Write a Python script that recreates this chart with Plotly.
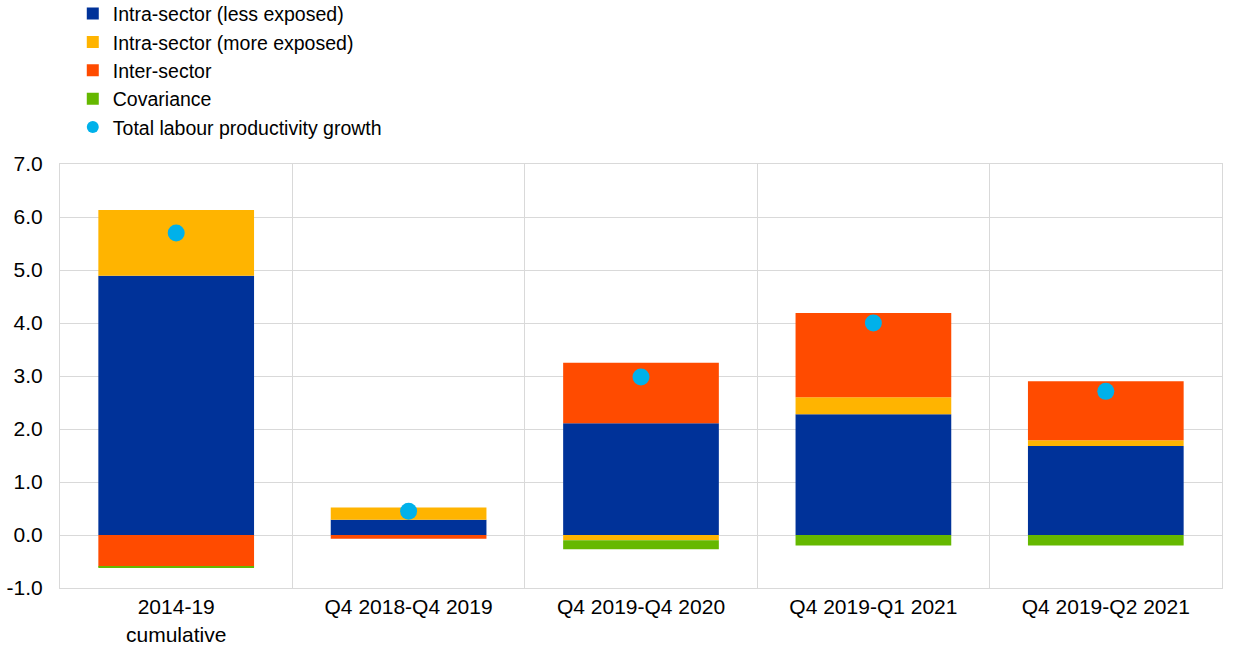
import plotly.graph_objects as go

categories = ["2014-19<br>cumulative", "Q4 2018-Q4 2019", "Q4 2019-Q4 2020", "Q4 2019-Q1 2021", "Q4 2019-Q2 2021"]
intra_less = [4.89, 0.29, 2.11, 2.28, 1.68]
intra_more = [1.24, 0.23, -0.10, 0.32, 0.11]
inter_sector = [-0.60, -0.07, 1.14, 1.59, 1.11]
covariance = [-0.01, 0.0, -0.17, -0.20, -0.20]
total = [5.70, 0.45, 2.98, 4.00, 2.71]
ytick_vals = [-1, 0, 1, 2, 3, 4, 5, 6, 7]
ytick_text = ["-1.0", "0.0", "1.0", "2.0", "3.0", "4.0", "5.0", "6.0", "7.0"]

FONT = "Liberation Sans, Arial, sans-serif"
FS = 21

fig = go.Figure()
bar_specs = [
    ("Intra-sector (less exposed)", intra_less, "#003299"),
    ("Intra-sector (more exposed)", intra_more, "#FFB400"),
    ("Inter-sector", inter_sector, "#FF4B00"),
    ("Covariance", covariance, "#65B800"),
]
for name, vals, col in bar_specs:
    fig.add_trace(go.Bar(x=categories, y=vals, name=name, marker_color=col,
                         marker_line_width=0, width=0.67))
fig.add_trace(go.Scatter(x=categories, y=total, name="Total labour productivity growth",
                         mode="markers", marker=dict(color="#00B1EA", size=17)))

fig.update_layout(
    width=1240, height=658,
    barmode="relative",
    plot_bgcolor="white", paper_bgcolor="white",
    font=dict(family=FONT, size=FS, color="#000000"),
    margin=dict(l=60, r=18, t=164, b=70, autoexpand=False),
    legend=dict(x=0.011, y=1.40, xref="paper", yref="paper",
                xanchor="left", yanchor="top", traceorder="normal",
                font=dict(size=19.5), itemsizing="constant", tracegroupgap=0,
                bgcolor="rgba(0,0,0,0)"),
    showlegend=True,
)
fig.update_xaxes(type="category", tickson="boundaries", showgrid=True,
                 gridcolor="#d9d9d9", gridwidth=1, ticks="", showline=True,
                 linecolor="#d9d9d9", mirror=True, tickfont=dict(size=FS))
fig.update_yaxes(range=[-1, 7], tickmode="array", tickvals=ytick_vals, ticktext=ytick_text,
                 showgrid=True, gridcolor="#d9d9d9", gridwidth=1, zeroline=True,
                 zerolinecolor="#d9d9d9", zerolinewidth=1, showline=True,
                 linecolor="#d9d9d9", mirror=True,
                 tickfont=dict(size=FS), ticks="", ticklabelstandoff=12)

fig.write_html("out.html", config={"displayModeBar": False},
               post_script="document.body.style.margin='0px';")
